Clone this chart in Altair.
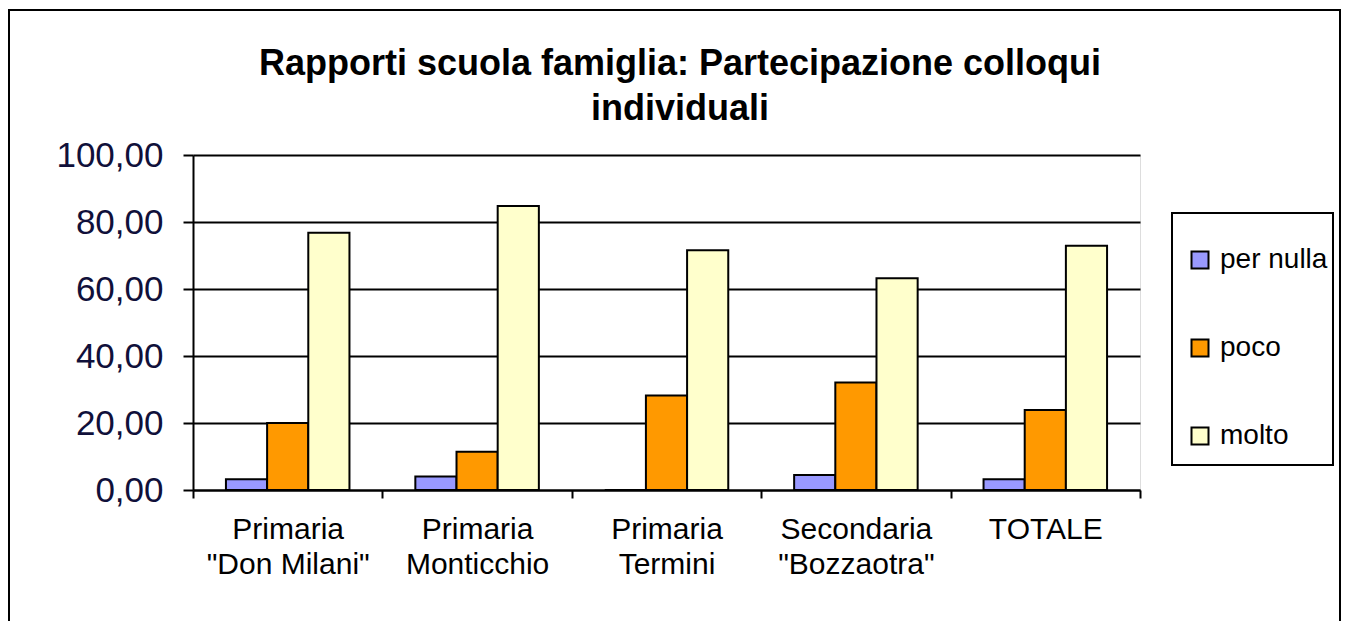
import altair as alt
import pandas as pd

categories = ['Primaria\n"Don Milani"', 'Primaria\nMonticchio', 'Primaria\nTermini',
              'Secondaria\n"Bozzaotra"', 'TOTALE']
series = ["per nulla", "poco", "molto"]
per_nulla = [3.2, 4.0, 0.0, 4.5, 3.2]
poco = [20.0, 11.4, 28.2, 32.1, 23.9]
molto = [76.8, 84.8, 71.6, 63.2, 72.9]
colors = ["#9999FF", "#FF9900", "#FFFFCC"]
y_ticks = [0, 20, 40, 60, 80, 100]
title_text = "Rapporti scuola famiglia: Partecipazione colloqui\nindividuali"

rows = []
for i, c in enumerate(categories):
    for s, vals in zip(series, [per_nulla, poco, molto]):
        rows.append({"cat": c, "serie": s, "val": vals[i]})
df = pd.DataFrame(rows)

FONT = "Liberation Sans"
W, H = 947, 335

bars = alt.Chart(df).mark_bar(stroke="black", strokeWidth=2).encode(
    x=alt.X("cat:N", sort=categories, title=None,
            scale=alt.Scale(paddingInner=0, paddingOuter=0),
            axis=alt.Axis(tickBand="extent", labelAngle=0, labelFont=FONT, labelFontSize=30,
                          labelColor="#000000", labelLineHeight=35, labelPadding=16,
                          labelExpr="split(datum.label, '\\n')",
                          domainColor="black", domainWidth=2, tickColor="black",
                          tickWidth=2, tickSize=8, grid=False, labelBaseline="top")),
    xOffset=alt.XOffset("serie:N", sort=series,
                        scale=alt.Scale(paddingInner=0, paddingOuter=0.8)),
    y=alt.Y("val:Q", title=None,
            scale=alt.Scale(domain=[0, 100], nice=False),
            axis=alt.Axis(values=y_ticks, labelFont=FONT, labelFontSize=35,
                          labelColor="#10103a", labelPadding=20,
                          labelExpr="replace(format(datum.value, '.2f'), '.', ',')",
                          domainColor="black", domainWidth=2, tickColor="black",
                          tickWidth=2, tickSize=10, grid=True, gridColor="black",
                          gridWidth=2, gridOpacity=1)),
    color=alt.Color("serie:N", sort=series,
                    scale=alt.Scale(domain=series, range=colors),
                    legend=alt.Legend(title=None, orient="none", legendX=993, legendY=91,
                                      labelFont=FONT, labelFontSize=28, labelColor="#000000",
                                      symbolType="square", symbolSize=289,
                                      symbolStrokeColor="black", symbolStrokeWidth=2,
                                      symbolOpacity=1, rowPadding=60, labelOffset=6,
                                      padding=0)),
)

frame_df = pd.DataFrame({"k": [0]})
outer = alt.Chart(frame_df).mark_rect(fill=None, stroke="black", strokeWidth=2).encode(
    x=alt.value(-184), x2=alt.value(1147), y=alt.value(-145), y2=alt.value(480))
legend_box = alt.Chart(frame_df).mark_rect(fill=None, stroke="black", strokeWidth=2).encode(
    x=alt.value(979), x2=alt.value(1140), y=alt.value(58), y2=alt.value(310))
title = alt.Chart(frame_df).mark_text(
    font=FONT, fontSize=36, fontWeight="bold", color="black", align="center",
    baseline="alphabetic", lineBreak="\n", lineHeight=45).encode(
    x=alt.value(487), y=alt.value(-80), text=alt.value(title_text))

chart = alt.layer(outer, legend_box, title, bars).properties(
    width=W, height=H,
    autosize=alt.AutoSizeParams(type="none"),
    padding={"left": 185, "top": 147, "right": 201, "bottom": 131},
).configure_view(stroke=None).configure(background="white")

chart.save("out.html", embed_options={"renderer": "svg", "actions": False})
